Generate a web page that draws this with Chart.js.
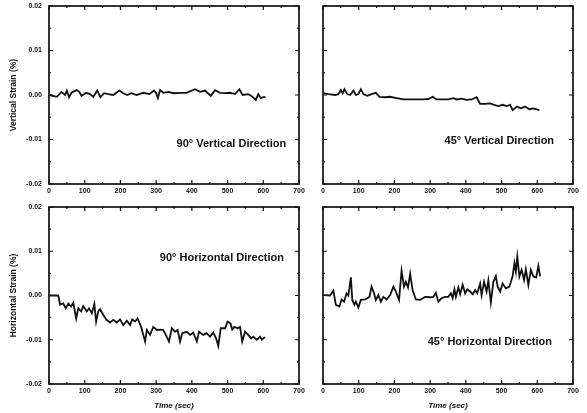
<!DOCTYPE html>
<html>
<head>
<meta charset="utf-8">
<script src="https://cdn.jsdelivr.net/npm/chart.js@4.4.1/dist/chart.umd.min.js"></script>
<style>
  body { margin: 0; background: #fff; }
  #wrap { position: relative; width: 587px; height: 413px; }
  canvas { position: absolute; }
</style>
</head>
<body>
<div id="wrap">
  <canvas id="c90v" width="310" height="200" style="left:0;top:0"></canvas>
  <canvas id="c45v" width="277" height="200" style="left:310px;top:0"></canvas>
  <canvas id="c90h" width="310" height="213" style="left:0;top:200px"></canvas>
  <canvas id="c45h" width="277" height="213" style="left:310px;top:200px"></canvas>
</div>
<script>
// tick values
var xTickValues = [0, 100, 200, 300, 400, 500, 600, 700];
var yTickValues = [-0.02, -0.01, 0, 0.01, 0.02];

// 90° vertical
var time90V = [0, 22, 35, 45, 50, 56, 63, 77, 85, 91, 104, 115, 124, 135, 144, 154, 166, 180, 197, 208, 219, 231, 245, 264, 281, 294, 300, 305, 311, 320, 334, 348, 367, 385, 409, 423, 437, 453, 465, 479, 493, 507, 521, 533, 542, 558, 567, 579, 586, 593, 600, 606];
var strain90V = [0, -0.0004, 0.0007, 0, 0.001, -0.0005, 0.0005, 0.0011, 0.0007, -0.0002, 0.0005, 0.0002, -0.0004, 0.001, -0.0005, 0.0004, 0.0002, 0, 0.001, 0.0004, 0, 0.0004, 0, 0.0005, 0.0002, 0.001, 0.0004, -0.0007, 0.0011, 0.0005, 0.0007, 0.0004, 0.0005, 0.0005, 0.0013, 0.0007, 0.001, -0.0002, 0.0011, 0.0005, 0.0004, 0.0005, 0.0002, 0.0013, 0, 0.0002, -0.0002, -0.0011, 0.0002, -0.0007, -0.0005, -0.0004];

// 45° vertical
var time45V = [1, 15, 34, 43, 50, 55, 60, 68, 76, 85, 92, 99, 106, 113, 124, 136, 148, 158, 174, 188, 206, 225, 244, 262, 281, 295, 307, 318, 337, 351, 365, 374, 388, 402, 416, 430, 440, 454, 468, 479, 491, 503, 515, 524, 531, 543, 554, 566, 578, 589, 606];
var strain45V = [0.0004, 0.0002, 0, 0.0002, 0.0011, 0.0004, 0.0013, 0.0002, 0, 0.001, 0, 0.0002, 0.0013, 0.0002, -0.0002, 0.0002, 0.0005, -0.0004, -0.0005, -0.0004, -0.0007, -0.001, -0.001, -0.001, -0.001, -0.0009, -0.0004, -0.001, -0.001, -0.001, -0.0007, -0.001, -0.0008, -0.0011, -0.001, -0.0005, -0.002, -0.002, -0.0019, -0.0022, -0.0025, -0.0022, -0.0025, -0.0022, -0.0034, -0.0026, -0.003, -0.0026, -0.0032, -0.003, -0.0034];

// 90° horizontal
var time90H = [0, 26, 31, 40, 47, 54, 62, 68, 76, 82, 90, 96, 106, 112, 120, 127, 132, 138, 143, 152, 161, 171, 180, 190, 199, 208, 218, 227, 233, 241, 248, 258, 269, 274, 283, 292, 302, 311, 320, 327, 336, 344, 353, 360, 367, 373, 386, 395, 404, 414, 420, 432, 441, 451, 460, 468, 474, 481, 493, 500, 508, 513, 519, 528, 535, 541, 549, 558, 566, 572, 582, 591, 596, 605];
var strain90H = [0, 0, -0.0021, -0.0018, -0.0029, -0.0018, -0.0025, -0.0016, -0.0052, -0.0029, -0.0036, -0.0024, -0.0036, -0.0029, -0.004, -0.0019, -0.0059, -0.0036, -0.0031, -0.0044, -0.0055, -0.0061, -0.0055, -0.0061, -0.0054, -0.0067, -0.0057, -0.0067, -0.0054, -0.0059, -0.0052, -0.0071, -0.0104, -0.0078, -0.0089, -0.0071, -0.0078, -0.0077, -0.0078, -0.0089, -0.0104, -0.0074, -0.0082, -0.0078, -0.0104, -0.0085, -0.0082, -0.0089, -0.0084, -0.0104, -0.0082, -0.0089, -0.0085, -0.0093, -0.0084, -0.0097, -0.0114, -0.0074, -0.0074, -0.0059, -0.0063, -0.0077, -0.0071, -0.0074, -0.0071, -0.0104, -0.0082, -0.0089, -0.0097, -0.0093, -0.01, -0.0093, -0.01, -0.0094];

// 45° horizontal
var time45H = [3, 20, 29, 36, 46, 52, 59, 66, 71, 78, 82, 88, 92, 99, 106, 118, 130, 136, 143, 148, 155, 162, 169, 178, 188, 197, 204, 213, 220, 227, 232, 238, 244, 251, 260, 272, 286, 300, 309, 316, 323, 332, 342, 351, 358, 363, 368, 372, 379, 384, 391, 398, 404, 412, 419, 426, 432, 440, 444, 451, 458, 463, 470, 477, 484, 489, 496, 503, 512, 522, 531, 536, 540, 544, 550, 556, 563, 568, 575, 582, 589, 597, 603, 608];
var strain45H = [0.0001, 0, 0.0011, -0.0021, -0.0025, -0.0009, -0.0014, 0.0005, 0, 0.0041, -0.001, -0.0021, -0.0014, -0.0027, -0.001, -0.0009, -0.0003, 0.002, 0.0005, -0.001, 0.0001, -0.0014, -0.0003, -0.0009, 0.0001, 0.002, 0.0009, -0.001, 0.0056, 0.002, 0.0031, 0.0018, 0.0049, 0.0012, -0.0009, -0.001, -0.0003, -0.0004, -0.0003, 0.0006, -0.0014, -0.0006, -0.0003, -0.0003, 0.0005, -0.0006, 0.0014, -0.0003, 0.0018, 0.0003, 0.0024, 0.0005, 0.0014, 0.0009, 0.0003, 0.0012, 0.0005, 0.0027, 0.0001, 0.0031, 0.0009, 0.0034, -0.0016, 0.0031, 0.0044, 0.002, 0.0009, 0.0027, 0.0016, 0.002, 0.0044, 0.0073, 0.0054, 0.0088, 0.0043, 0.0058, 0.0035, 0.0059, 0.0024, 0.0058, 0.0043, 0.0041, 0.0067, 0.0043];

var FONT = "'Liberation Sans', Arial, sans-serif";
var INK = '#111';

function points(xs, ys) {
    return xs.map(function (t, i) { return { x: t, y: ys[i] }; });
}

// keine Extra-Ränder durch Achsenbeschriftungen
function noScalePadding(s) {
    s.paddingTop = 0; s.paddingBottom = 0;
    s.paddingLeft = 0; s.paddingRight = 0;
}

// Rahmen mit Innenstrichen und Beschriftung
var framePlugin = {
    id: 'frame',
    afterDatasetsDraw: function (chart, args, opts) {
        var ctx = chart.ctx, a = chart.chartArea;
        var x = chart.scales.x, y = chart.scales.y;
        ctx.save();
        ctx.strokeStyle = INK;
        ctx.lineWidth = 1.2;
        for (var t = 0; t <= 700; t += 50) {
            var px = x.getPixelForValue(t);
            var len = t % 100 === 0 ? 4 : 2;
            ctx.beginPath();
            ctx.moveTo(px, a.bottom); ctx.lineTo(px, a.bottom - len);
            ctx.moveTo(px, a.top); ctx.lineTo(px, a.top + len);
            ctx.stroke();
        }
        for (var k = -4; k <= 4; k++) {
            var py = y.getPixelForValue(k * 0.005);
            var l2 = k % 2 === 0 ? 4 : 2;
            ctx.beginPath();
            ctx.moveTo(a.left, py); ctx.lineTo(a.left + l2, py);
            ctx.moveTo(a.right, py); ctx.lineTo(a.right - l2, py);
            ctx.stroke();
        }
        ctx.lineWidth = 1.7;
        ctx.strokeRect(a.left, a.top, a.right - a.left, a.bottom - a.top);
        ctx.fillStyle = INK;
        ctx.font = 'bold 11px ' + FONT;
        ctx.textAlign = 'right';
        ctx.textBaseline = 'middle';
        ctx.fillText(opts.text, x.getPixelForValue(opts.at[0]), y.getPixelForValue(opts.at[1]));
        ctx.restore();
    }
};

function makeChart(id, xs, ys, cfg) {
    var ctx = document.getElementById(id).getContext('2d');
    return new Chart(ctx, {
        type: 'line',
        data: {
            datasets: [{
                data: points(xs, ys),
                borderColor: INK,
                borderWidth: 1.8,
                pointRadius: 0,
                tension: 0,
                fill: false
            }]
        },
        options: {
            responsive: false,
            animation: false,
            layout: { padding: { top: cfg.top, right: cfg.right, left: cfg.padLeft, bottom: 0 } },
            plugins: {
                legend: { display: false },
                tooltip: { enabled: false },
                frame: { text: cfg.text, at: cfg.at }
            },
            scales: {
                x: {
                    type: 'linear',
                    min: 0, max: 700,
                    grid: { display: false, drawTicks: false },
                    border: { display: false },
                    afterBuildTicks: function (s) { s.ticks = xTickValues.map(function (v) { return { value: v }; }); },
                    ticks: {
                        padding: 3,
                        color: INK,
                        font: { family: FONT, size: 7, weight: 'bold' },
                        maxRotation: 0
                    },
                    title: {
                        display: !!cfg.xTitle,
                        text: cfg.xTitle || '',
                        color: INK,
                        font: { family: FONT, size: 8, weight: 'bold', style: 'italic' },
                        padding: { top: 4, bottom: 2 }
                    },
                    afterFit: function (s) { s.height = cfg.h - cfg.bottom; noScalePadding(s); }
                },
                y: {
                    min: -0.02, max: 0.02,
                    grid: { display: false, drawTicks: false },
                    border: { display: false },
                    afterBuildTicks: function (s) { s.ticks = yTickValues.map(function (v) { return { value: v }; }); },
                    ticks: {
                        display: cfg.yLabels,
                        padding: 7,
                        color: INK,
                        font: { family: FONT, size: 7, weight: 'bold' },
                        callback: function (v) { return (Math.abs(v) < 1e-9 ? 0 : v).toFixed(2); }
                    },
                    title: {
                        display: !!cfg.yTitle,
                        text: cfg.yTitle || '',
                        color: INK,
                        font: { family: FONT, size: 8.5, weight: 'bold' },
                        padding: { top: 0, bottom: 4 }
                    },
                    afterFit: function (s) { s.width = cfg.left - cfg.padLeft; noScalePadding(s); }
                }
            }
        },
        plugins: [framePlugin]
    });
}

makeChart('c90v', time90V, strain90V, {
    h: 200, top: 6, bottom: 184, left: 49, padLeft: 9, right: 11, yLabels: true,
    yTitle: 'Vertical Strain (%)',
    text: '90° Vertical Direction', at: [664, -0.011]
});
makeChart('c45v', time45V, strain45V, {
    h: 200, top: 6, bottom: 184, left: 13, padLeft: 0, right: 14, yLabels: false,
    text: '45° Vertical Direction', at: [647, -0.0104]
});
makeChart('c90h', time90H, strain90H, {
    h: 213, top: 7, bottom: 184, left: 49, padLeft: 9, right: 11, yLabels: true,
    yTitle: 'Horizontal Strain (%)', xTitle: 'Time (sec)',
    text: '90° Horizontal Direction', at: [658, 0.0085]
});
makeChart('c45h', time45H, strain45H, {
    h: 213, top: 7, bottom: 184, left: 13, padLeft: 0, right: 14, yLabels: false,
    xTitle: 'Time (sec)',
    text: '45° Horizontal Direction', at: [641, -0.0105]
});
</script>
</body>
</html>
